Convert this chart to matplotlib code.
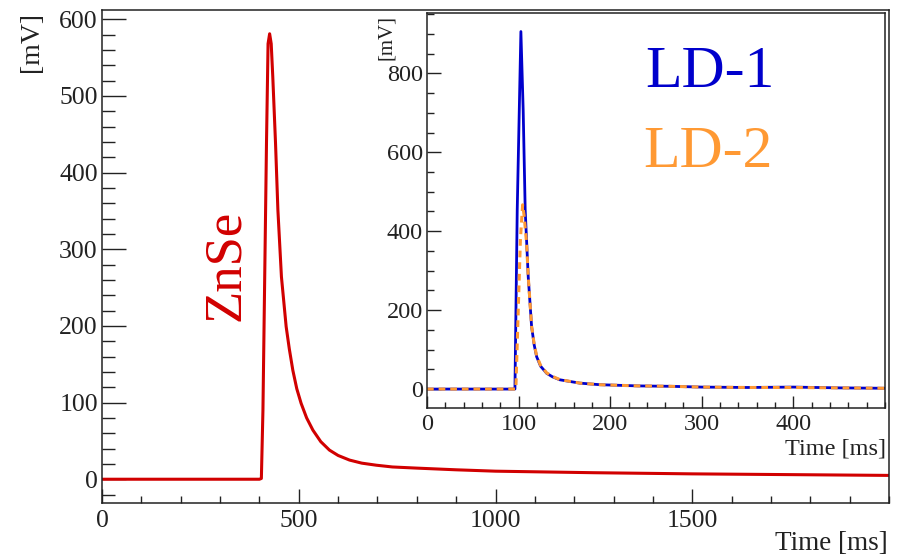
import matplotlib
matplotlib.use('Agg')
import matplotlib.pyplot as plt
from matplotlib.ticker import MultipleLocator

plt.rcParams['font.family'] = ['Liberation Serif', 'DejaVu Serif']

# ZnSe pulse (main pad)
znse_t = [0, 200, 400, 405, 409, 418, 422, 426, 430, 434, 441, 447, 456, 468, 476, 485,
          495, 506, 520, 536, 556, 578, 600, 629, 660, 697, 738, 800, 900, 1000,
          1250, 1500, 1750, 2000]
znse_mv = [0, 0, 0, 1, 90, 438, 568, 581, 568, 525, 438, 351, 264, 199, 170, 142,
           118, 99, 80, 64, 49, 38, 31, 25, 21, 18.3, 16, 14.5, 12.3, 10.5,
           8.5, 7, 6, 5]

# light detector pulses (inset)
ld1_t = [0, 50, 96, 98.5, 102.5, 105, 107.2, 110.5, 114.2, 117, 119.7, 124, 130.6,
         137, 145, 167, 189, 230, 265, 300, 350, 400, 450, 500]
ld1_mv = [0, 0, 0, 454, 906, 707, 454, 285, 158, 112, 82, 58, 40,
          31, 23.5, 15, 11, 8, 7, 5, 4, 5, 3, 2]
ld2_t = [0, 50, 97, 99.6, 102, 104.4, 106, 108.7, 110.5, 114.2, 117, 119.7, 124, 130.6,
         137, 145, 167, 189, 230, 265, 300, 350, 400, 450, 500]
ld2_mv = [0, 0, 0, 200, 380, 467, 440, 370, 285, 160, 114, 84, 60, 41,
          32, 24, 15, 11, 8, 7, 5, 4, 4, 3, 2]

main_xticks = [0, 500, 1000, 1500]
main_yticks = [0, 100, 200, 300, 400, 500, 600]
ins_xticks = [0, 100, 200, 300, 400]
ins_yticks = [0, 200, 400, 600, 800]

red = '#d10000'
blue = '#0000cc'
orange = '#ff9933'

W, H = 897, 557
fig = plt.figure(figsize=(W / 100, H / 100), dpi=100)

def box(l, t, r, b):
    return [l / W, 1 - b / H, (r - l) / W, (b - t) / H]

ax = fig.add_axes(box(102, 10, 889, 503))
ax.plot(znse_t, znse_mv, color=red, lw=2.2)
ax.set_xlim(0, 2000)
ax.set_ylim(-31, 612)
ax.set_xticks(main_xticks)
ax.set_yticks(main_yticks)
ax.xaxis.set_minor_locator(MultipleLocator(100))
ax.yaxis.set_minor_locator(MultipleLocator(20))
ax.tick_params(axis='both', which='both', direction='in', width=1, top=False, right=False,
               labelsize=18.5, colors='#222222')
ax.tick_params(axis='x', which='major', length=10, pad=5)
ax.tick_params(axis='x', which='minor', length=5.4)
ax.tick_params(axis='y', which='major', length=17, pad=3)
ax.tick_params(axis='y', which='minor', length=9.4)
for s in ax.spines.values():
    s.set_linewidth(1.1)
    s.set_color('#222222')

fig.text(226 / W, 1 - 265 / H, 'ZnSe', color=red, fontsize=38, rotation=90,
         ha='center', va='center')
fig.text(888 / W, 1 - 550 / H, 'Time [ms]', fontsize=19.5, ha='right', va='baseline',
         color='#222222')
fig.text(31 / W, 1 - 12 / H, '[mV]', fontsize=20, rotation=90, ha='center', va='top',
         color='#222222')

# inset with the two light detectors
ins = fig.add_axes(box(427, 13, 885, 408))
ins.set_facecolor('white')
ins.plot(ld1_t, ld1_mv, color=blue, lw=2.0)
ins.plot(ld2_t, ld2_mv, color=orange, lw=2.2, dashes=(2.2, 1.6))
ins.set_xlim(0, 500)
ins.set_ylim(-48, 953)
ins.set_xticks(ins_xticks)
ins.set_yticks(ins_yticks)
ins.xaxis.set_minor_locator(MultipleLocator(20))
ins.yaxis.set_minor_locator(MultipleLocator(50))
ins.tick_params(axis='both', which='both', direction='in', width=1, top=False, right=False,
                labelsize=17.5, colors='#222222')
ins.tick_params(axis='x', which='major', length=8.6, pad=4)
ins.tick_params(axis='x', which='minor', length=4.3)
ins.tick_params(axis='y', which='major', length=10, pad=3)
ins.tick_params(axis='y', which='minor', length=5)
for s in ins.spines.values():
    s.set_linewidth(1.1)
    s.set_color('#222222')

fig.text(886 / W, 1 - 454 / H, 'Time [ms]', fontsize=17.5, ha='right', va='baseline',
         color='#222222')
fig.text(386 / W, 1 - 15 / H, '[mV]', fontsize=15, rotation=90, ha='center', va='top',
         color='#222222')
fig.text(645 / W, 1 - 87 / H, 'LD-1', color=blue, fontsize=43, ha='left', va='baseline')
fig.text(643 / W, 1 - 167 / H, 'LD-2', color=orange, fontsize=43, ha='left', va='baseline')

fig.savefig('out.png', dpi=100)
